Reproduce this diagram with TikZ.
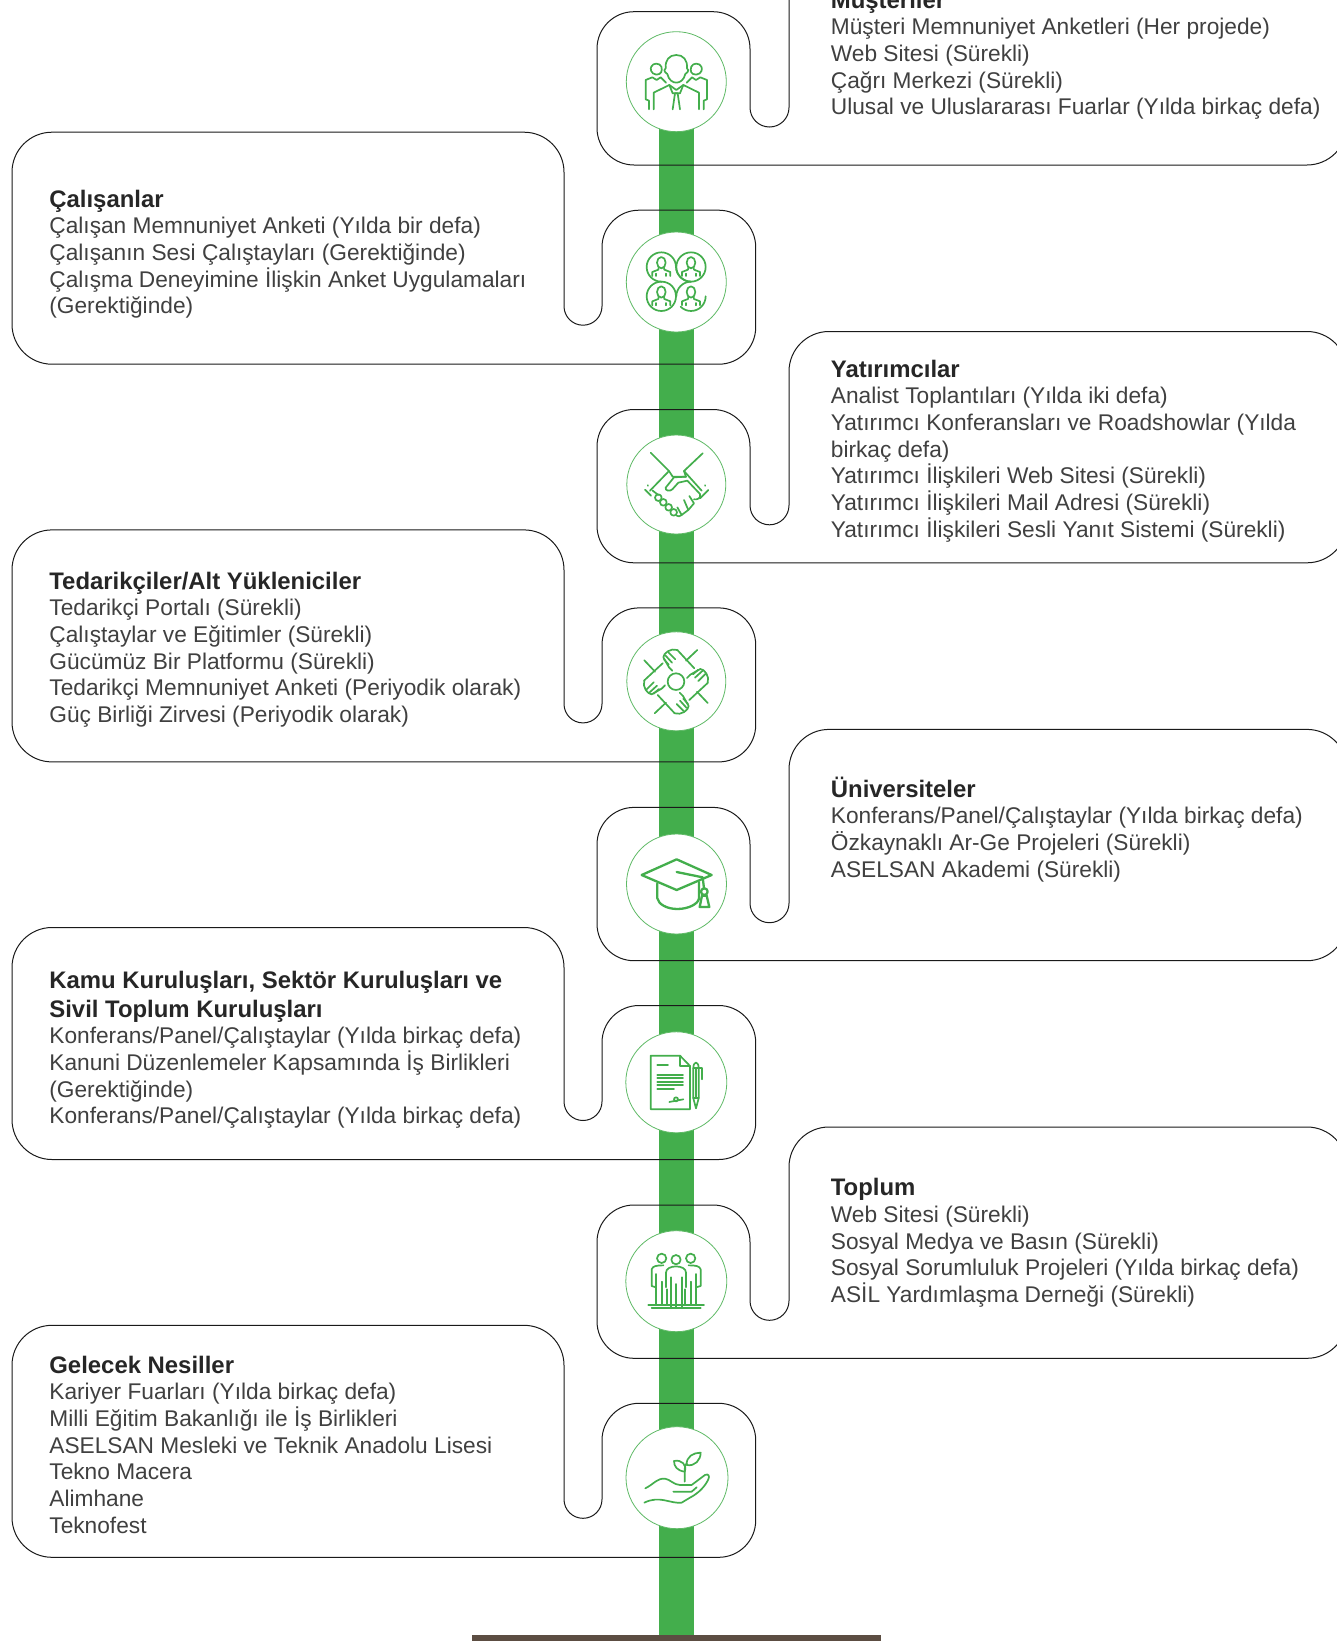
\documentclass[tikz,border=0pt]{standalone}
\usepackage{fontspec}
\setmainfont{Liberation Sans}
\definecolor{barGreen}{HTML}{43AE4C}
\definecolor{ringGreen}{HTML}{5FBA66}
\definecolor{baseBrown}{HTML}{5C4D42}
\definecolor{inkGrey}{HTML}{404040}
\definecolor{titleInk}{HTML}{262626}
\definecolor{lineInk}{HTML}{1A1A1A}
\tikzset{
  callout/.style={draw=lineInk,line width=1pt},
  hub/.style={circle,draw=ringGreen,fill=white,line width=0.8pt,inner sep=0pt,minimum size=100pt},
  txt/.style={anchor=base west,inner sep=0pt,text=inkGrey,font=\fontsize{22.7}{26.7}\selectfont},
  icon/.style={draw=barGreen,line width=1.7pt,line cap=round,line join=round},
  iconthick/.style={draw=barGreen,line width=2.3pt,line cap=round,line join=round},
}
\newcommand{\rightbox}[1]{%
  \draw[callout] (1347,#1-191.3) arc[start angle=0,end angle=-90,radius=40] -- (829,#1-231.3)
    arc[start angle=-90,end angle=-180,radius=40] -- (789,#1-57.5)
    arc[start angle=0,end angle=180,radius=19.5] -- (750,#1-116.3)
    arc[start angle=0,end angle=-90,radius=37] -- (634,#1-153.3)
    arc[start angle=-90,end angle=-180,radius=37] -- (597,#1-37)
    arc[start angle=180,end angle=90,radius=37] -- (1307,#1)
    arc[start angle=90,end angle=0,radius=40];}
\newcommand{\leftbox}[1]{%
  \draw[callout] (52,#1-232) -- (524,#1-232)
    arc[start angle=-90,end angle=0,radius=40] -- (564,#1-58)
    arc[start angle=180,end angle=0,radius=19] -- (602,#1-117)
    arc[start angle=180,end angle=270,radius=37] -- (718.7,#1-154)
    arc[start angle=-90,end angle=0,radius=37] -- (755.7,#1-37)
    arc[start angle=0,end angle=90,radius=37] -- (52,#1)
    arc[start angle=90,end angle=180,radius=40] -- (12,#1-192)
    arc[start angle=180,end angle=270,radius=40] -- cycle;}
\newcommand{\ttl}[1]{\hbox{\fontsize{23.9}{26.7}\selectfont\bfseries\color{titleInk} #1}}
\newcommand{\lne}[1]{\hbox{#1}}
\newcommand{\tblock}[1]{\vtop{\baselineskip=26.7pt\lineskiplimit=-100pt #1}}
\newcommand{\persontile}[2]{%
  \draw[icon] (#1,#2-13) ellipse[x radius=13,y radius=17];
  \draw[icon] (#1-27,#2+27) -- (#1-27,#2+15) -- (#1-9,#2+8) -- (#1-8,#2+2);
  \draw[icon] (#1+27,#2+27) -- (#1+27,#2+15) -- (#1+9,#2+8) -- (#1+8,#2+2);
  \draw[icon] (#1-15,#2+27) -- (#1-15,#2+20);
  \draw[icon] (#1+15,#2+27) -- (#1+15,#2+20);
}
\begin{document}
\begin{tikzpicture}[x=1pt,y=-1pt]
\useasboundingbox (0,0) rectangle (1337,1641);
\clip (0,0) rectangle (1337,1641);
\fill[white] (0,0) rectangle (1337,1641);
% spine and base
\fill[barGreen] (659,81) rectangle (694,1636);
\fill[baseBrown] (472,1635) rectangle (881,1641);
% callouts
\rightbox{165}
\rightbox{562.8}
\rightbox{960.7}
\rightbox{1358.3}
\leftbox{364.2}
\leftbox{761.9}
\leftbox{1159.5}
\leftbox{1557.3}
% hubs
\node[hub] (h1) at (676.3,81.7) {};
\node[hub] (h2) at (676.3,282) {};
\node[hub,minimum size=99pt] (h3) at (676.3,484.5) {};
\node[hub,minimum size=99pt] (h4) at (676.3,681.3) {};
\node[hub] (h5) at (676.5,884) {};
\node[hub,minimum size=101pt] (h6) at (676.3,1082.3) {};
\node[hub,minimum size=101pt] (h7) at (676.3,1281.2) {};
\node[hub,minimum size=102pt] (h8) at (677,1477.7) {};
% texts
\node[txt] (t1) at (830.7,8) {\tblock{\ttl{Müşteriler}\lne{Müşteri Memnuniyet Anketleri (Her projede)}\lne{Web Sitesi (Sürekli)}\lne{Çağrı Merkezi (Sürekli)}\lne{Ulusal ve Uluslararası Fuarlar (Yılda birkaç defa)}}};
\node[txt] (t2) at (49.2,207) {\tblock{\ttl{Çalışanlar}\lne{Çalışan Memnuniyet Anketi (Yılda bir defa)}\lne{Çalışanın Sesi Çalıştayları (Gerektiğinde)}\lne{Çalışma Deneyimine İlişkin Anket Uygulamaları}\lne{(Gerektiğinde)}}};
\node[txt] (t3) at (830.7,377) {\tblock{\ttl{Yatırımcılar}\lne{Analist Toplantıları (Yılda iki defa)}\lne{Yatırımcı Konferansları ve Roadshowlar (Yılda}\lne{birkaç defa)}\lne{Yatırımcı İlişkileri Web Sitesi (Sürekli)}\lne{Yatırımcı İlişkileri Mail Adresi (Sürekli)}\lne{Yatırımcı İlişkileri Sesli Yanıt Sistemi (Sürekli)}}};
\node[txt] (t4) at (49.2,589) {\tblock{\ttl{Tedarikçiler/Alt Yükleniciler}\lne{Tedarikçi Portalı (Sürekli)}\lne{Çalıştaylar ve Eğitimler (Sürekli)}\lne{Gücümüz Bir Platformu (Sürekli)}\lne{Tedarikçi Memnuniyet Anketi (Periyodik olarak)}\lne{Güç Birliği Zirvesi (Periyodik olarak)}}};
\node[txt] (t5) at (830.7,797) {\tblock{\ttl{Üniversiteler}\lne{Konferans/Panel/Çalıştaylar (Yılda birkaç defa)}\lne{Özkaynaklı Ar-Ge Projeleri (Sürekli)}\lne{ASELSAN Akademi (Sürekli)}}};
\node[txt] (t6) at (49.2,988) {\tblock{\ttl{Kamu Kuruluşları, Sektör Kuruluşları ve}\vskip 2.4pt\ttl{Sivil Toplum Kuruluşları}\lne{Konferans/Panel/Çalıştaylar (Yılda birkaç defa)}\lne{Kanuni Düzenlemeler Kapsamında İş Birlikleri}\lne{(Gerektiğinde)}\lne{Konferans/Panel/Çalıştaylar (Yılda birkaç defa)}}};
\node[txt] (t7) at (830.7,1195.8) {\tblock{\ttl{Toplum}\lne{Web Sitesi (Sürekli)}\lne{Sosyal Medya ve Basın (Sürekli)}\lne{Sosyal Sorumluluk Projeleri (Yılda birkaç defa)}\lne{ASİL Yardımlaşma Derneği (Sürekli)}}};
\node[txt] (t8) at (49.2,1373) {\tblock{\ttl{Gelecek Nesiller}\lne{Kariyer Fuarları (Yılda birkaç defa)}\lne{Milli Eğitim Bakanlığı ile İş Birlikleri}\lne{ASELSAN Mesleki ve Teknik Anadolu Lisesi}\lne{Tekno Macera}\lne{Alimhane}\lne{Teknofest}}};
% icon 1: three people
\begin{scope}[shift={(580,0)},x=0.3333pt,y=-0.3333pt]
\draw[icon] (262,222) .. controls (250,215) and (252,205) .. (257,205) .. controls (255,180) and (268,165) .. (289,165) .. controls (310,165) and (323,180) .. (321,205) .. controls (326,205) and (328,215) .. (316,222) .. controls (312,240) and (300,248) .. (289,248) .. controls (278,248) and (266,240) .. (262,222);
\draw[icon] (221,328) -- (221,278) -- (268,255) -- (278,280) -- (300,280) -- (310,255) -- (357,278) -- (357,328);
\draw[icon] (278,328) -- (285,280) -- (293,280) -- (300,328);
\draw[icon] (268,255) -- (289,270) -- (310,255);
\draw[icon] (229,224) .. controls (212,222) and (210,205) .. (214,200) .. controls (218,188) and (240,188) .. (244,200) .. controls (248,212) and (244,224) .. (229,224);
\draw[icon] (349,224) .. controls (332,224) and (330,212) .. (334,200) .. controls (338,188) and (360,188) .. (364,200) .. controls (368,205) and (366,222) .. (349,224);
\draw[icon] (207,328) -- (207,302) -- (197,298) -- (197,240) -- (217,232) -- (230,240) -- (242,232) -- (258,248);
\draw[icon] (371,328) -- (371,302) -- (381,298) -- (381,240) -- (361,232) -- (348,240) -- (336,232) -- (320,248);
\end{scope}
% icon 2: four people in circles
\begin{scope}[shift={(590,200)},x=0.3333pt,y=-0.3333pt]
\persontile{214}{201}\persontile{303}{201}\persontile{214}{289}\persontile{303}{289}
\draw[icon] (258,201) arc[start angle=0,end angle=-270,radius=44];
\draw[icon] (259,201) arc[start angle=180,end angle=-270+360-360+0,radius=44];
\draw[icon] (214,245) arc[start angle=-90,end angle=-360,radius=44];
\draw[icon] (303,245) arc[start angle=-90,end angle=-270+0+90,radius=44];
\draw[icon] (347,289) arc[start angle=0,end angle=135,radius=44];
\draw[icon] (258,201) .. controls (258,225) and (280,245) .. (303,245);
\draw[icon] (214,245) .. controls (240,245) and (258,265) .. (258,289);
\end{scope}
% icon 3: handshake
\begin{scope}[shift={(600,420)},x=0.3333pt,y=-0.3333pt]
\draw[icon] (152,98) -- (207,153) -- (150,212);
\draw[icon] (308,100) -- (252,153) -- (305,212);
\draw[icon] (135,209) -- (153,227);
\draw[icon] (325,210) -- (300,235);
\draw[icon] (143,196) -- (144,197);
\draw[icon] (315,196) -- (316,197);
\draw[icon] (207,153) -- (218,170) -- (258,170) -- (252,153);
\draw[icon] (258,170) -- (222,172) -- (197,203) .. controls (195,213) and (210,215) .. (217,208) -- (235,188) -- (262,182) -- (300,222) .. controls (305,235) and (290,240) .. (282,238);
\draw[icon] (158,212) -- (175,225);
\draw[icon] (175,233) circle[radius=10];
\draw[icon] (190,247) circle[radius=10];
\draw[icon] (206,262) circle[radius=10];
\draw[icon] (221,277) circle[radius=10];
\draw[icon] (232,262) -- (245,285) .. controls (240,290) and (235,290) .. (230,287);
\draw[icon] (252,240) -- (265,270) -- (245,285);
\draw[icon] (268,228) -- (282,250) -- (265,270);
\end{scope}
% icon 4: four hands
\begin{scope}[shift={(600,420)},x=0.3333pt,y=-0.3333pt]
\draw[icon] (228,785) circle[radius=25];
\foreach \a in {0,90,180,270}{
\begin{scope}[rotate around={\a:(228,785)}]
\draw[icon] (292,690) -- (258,722);
\draw[icon] (232,690) -- (283,745);
\draw[icon] (232,690) .. controls (212,683) and (190,700) .. (190,712) -- (207,742);
\draw[icon] (205,697) -- (226,718);
\draw[icon] (196,706) -- (216,728);
\draw[icon] (192,718) -- (206,734);
\draw[icon] (207,742) -- (217,752);
\end{scope}}
\end{scope}
% icon 5: graduation cap
\begin{scope}[shift={(600,820)},x=0.3333pt,y=-0.3333pt]
\draw[iconthick] (125,165) -- (230,118) -- (335,165) -- (230,210) -- cycle;
\draw[iconthick] (172,190) -- (172,235) .. controls (175,252) and (200,267) .. (232,267) .. controls (265,267) and (295,252) .. (297,235) -- (297,186);
\draw[iconthick] (230,156) -- (308,172) -- (312,205);
\draw[iconthick] (313,215) circle[radius=10];
\draw[iconthick] (306,227) -- (299,261) -- (328,261) -- (320,227) -- cycle;
\end{scope}
% icon 6: document and pen
\begin{scope}[shift={(600,820)},x=0.3333pt,y=-0.3333pt]
\draw[icon] (152,707) -- (240,707) -- (270,738) -- (270,868) -- (152,868) -- cycle;
\draw[icon] (240,707) -- (240,738) -- (270,738);
\draw[icon] (172,735) -- (204,735);
\draw[icon] (172,765) -- (249,765);
\draw[icon] (172,775) -- (249,775);
\draw[icon] (172,785) -- (249,785);
\draw[icon] (172,796) -- (249,796);
\draw[icon] (172,806) -- (222,806);
\draw[icon] (208,846) -- (250,838);
\draw[icon] (228,838) circle[radius=6];
\draw[icon] (280,745) .. controls (280,722) and (296,722) .. (296,745) -- (296,835) -- (288,865) -- (280,835) -- cycle;
\draw[icon] (288,745) -- (288,835);
\draw[icon] (280,743) -- (305,743) -- (305,778);
\draw[icon] (280,835) -- (296,835);
\end{scope}
% icon 7: group
\begin{scope}[shift={(600,1200)},x=0.3333pt,y=-0.3333pt]
\draw[icon] (185,175) circle[radius=14];
\draw[icon] (228,179) circle[radius=14];
\draw[icon] (272,175) circle[radius=14];
\draw[icon] (198,262) -- (198,218) .. controls (198,205) and (212,200) .. (228,199) .. controls (244,200) and (258,205) .. (258,218) -- (258,262);
\draw[icon] (212,325) -- (212,232);
\draw[icon] (245,325) -- (245,232);
\draw[icon] (228,325) -- (228,252);
\draw[icon] (168,315) -- (168,262) -- (155,258) -- (155,208) .. controls (158,198) and (170,196) .. (190,196);
\draw[icon] (168,222) -- (168,262);
\draw[icon] (185,245) -- (185,315);
\draw[icon] (201,268) -- (201,315);
\draw[icon] (288,315) -- (288,262) -- (302,258) -- (302,208) .. controls (299,198) and (287,196) .. (266,196);
\draw[icon] (288,222) -- (288,262);
\draw[icon] (272,245) -- (272,315);
\draw[icon] (256,268) -- (256,315);
\draw[icon] (145,315) -- (312,315);
\draw[icon] (155,325) -- (302,325);
\end{scope}
% icon 8: plant in hand
\begin{scope}[shift={(600,1200)},x=0.3333pt,y=-0.3333pt]
\draw[icon] (254,845) -- (254,808) .. controls (254,800) and (256,795) .. (260,790);
\draw[icon] (254,815) .. controls (232,812) and (222,800) .. (222,783) .. controls (245,778) and (262,795) .. (254,815);
\draw[icon] (260,795) .. controls (258,770) and (280,758) .. (302,758) .. controls (302,780) and (285,800) .. (260,795);
\draw[icon] (136,865) .. controls (165,850) and (170,835) .. (195,836) .. controls (210,838) and (222,855) .. (240,855) -- (275,855) -- (315,825) .. controls (325,820) and (330,828) .. (325,838) .. controls (315,860) and (295,880) .. (270,893) -- (245,908) .. controls (210,912) and (180,885) .. (133,908);
\draw[icon] (220,875) -- (275,875) -- (290,862);
\end{scope}
\end{tikzpicture}
\end{document}
